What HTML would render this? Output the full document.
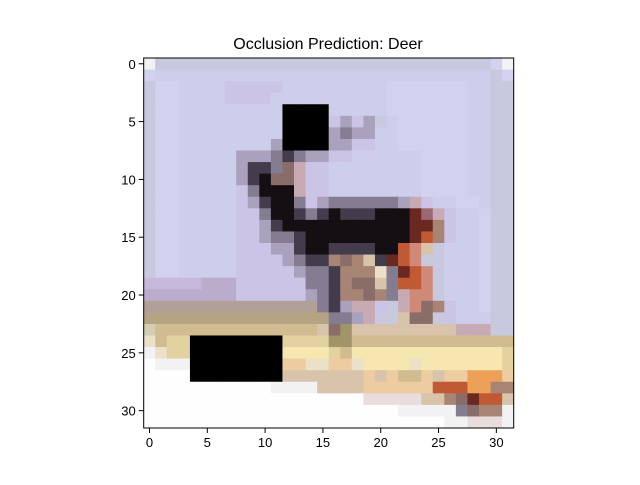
<!DOCTYPE html>
<html><head><meta charset="utf-8"><style>
body{margin:0;background:#fff;width:640px;height:480px;overflow:hidden}
svg{font-family:"Liberation Sans","DejaVu Sans",sans-serif}
</style></head><body>
<svg id="c" width="640" height="480">
<text x="328" y="49" text-anchor="middle" font-size="16">Occlusion Prediction: Deer</text>
<g id="cells"></g>
<g id="axes"></g>
</svg>
<script>
const rows = [
"wggggggggggggggggggggggggggggglw",
"lLLLLLLLLLLLLLLLLLLLLLLLLLLLLLgl",
"gllLLLLpppppLLLLLLLLLlllllllLLgg",
"gllLLLLppppLLLLLLLLLLlllllllLLgg",
"gllLLLLLLLLLKKKKLLLLLlllllllLLgg",
"gllLLLLLLLLLKKKKpspsgLllllllLLgg",
"gllLLLLLLLLLKKKKsmssLLllllllLLgg",
"gllLLLLLLLLsKKKKssppLLllllllLLgg",
"gllLLLLLsssmdmssppLLLLLLllllLLgg",
"gllLLLLLsddmMqppLLLLLLLLllllLLgg",
"gllLLLLLsdkMMqppLLLLLLLLllllLLgg",
"gllLLLLLpmkkkqppLLLLLLLLllllLLgg",
"gllLLLLLpsdkkmpsmmmmmmsqpLLllLgg",
"gllLLLLLppmkkdmdkdddkkkRxqpLLlgg",
"gllLLLLLppsdkkkkkkkkkkkRRbpLLlgg",
"gllLLLLLppsmmdkkkkkkkkkRrbpLLlgg",
"gllLLLLLpppssdkkddddkkrnegLLLlgg",
"gllLLLLLppppsmddbMbedRrnggLLLlgg",
"gllLLLLLpppppsmmdbbbcmRrngLLLlgg",
"PPPPPhhhppppppmmdbMMemrrngLLLlgg",
"hhhhhhhhppppppsmdbbMbmqnngLLLlgg",
"tttttttttttttttmdsqqpgqnMbpLLlgg",
"uuuuuuuuuuuuuuuummsqggeMMgpLLLgg",
"vyyyyyyyyyyyyyyeMzeeeeeeeeeqqqgg",
"cyaaKKKKKKKKaaaazzyyyyyyyyyyyyyy",
"wcaaKKKKKKKKYYYYayYYYYYYYYYYYYYa",
"WwwwKKKKKKKKffccffcYYYYcYYYYYYYa",
"WWWWKKKKKKKKeeeeeeefefyyfeffooof",
"WWWWWWWWWWWwwwweeeeffffffrrroob",
"WWWWWWWWWWWWWWWWWWWiiiiieebMRrre",
"WWWWWWWWWWWWWWWWWWWWWWwwwwwmMbbw",
"WWWWWWWWWWWWWWWWWWWWWWWWWWwwiiiw"
];
const palette = {W:"#fefefe",w:"#f2f2f4",g:"#c8c8de",l:"#d2d2f0",L:"#cdcdec",p:"#cbc4e6",P:"#c8b8dc",h:"#bcaccc",K:"#000000",k:"#150e12",d:"#433c4c",m:"#847c90",M:"#8a6c68",s:"#aaa2bc",q:"#c8aab4",x:"#9a6870",R:"#6a2820",r:"#c05a34",n:"#d08878",b:"#a88474",e:"#d8c4aa",c:"#ece0c8",t:"#b0a098",u:"#b4a484",v:"#d4ccb4",y:"#d0bc90",z:"#a09468",a:"#e2d2a0",Y:"#f6e6b0",f:"#eccca0",o:"#eca058",i:"#e8dcdc"};
const xTicks = [0,5,10,15,20,25,30];
const yTicks = [0,5,10,15,20,25,30];
const N = 32;
const L0=143.7, T0=58, S=370, cs=S/N;
const NS="http://www.w3.org/2000/svg";
const xs = v => L0 + (v+0.5)*cs;
const ys = v => T0 + (v+0.5)*cs;
const cells=document.getElementById('cells');
for(let r=0;r<N;r++){
  const row=(rows[r]+"".padEnd(N,rows[r].slice(-1))).slice(0,N);
  for(let c=0;c<N;c++){
    const el=document.createElementNS(NS,'rect');
    
    
    el.setAttribute('x',(xs(c)-cs/2).toFixed(2));
    el.setAttribute('y',(ys(r)-cs/2).toFixed(2));
    el.setAttribute('width',(cs+0.4).toFixed(2));
    el.setAttribute('height',(cs+0.4).toFixed(2));
    el.setAttribute('fill',palette[row[c]]||"#cdcdec");
    cells.appendChild(el);
  }
}
const ax=document.getElementById('axes');
function mk(tag,attrs,name,txt){
  const el=document.createElementNS(NS,tag);
  for(const k in attrs) el.setAttribute(k,attrs[k]);
  
  
  if(txt!==undefined) el.textContent=txt;
  ax.appendChild(el); return el;
}
mk('rect',{x:L0,y:T0,width:S,height:S,fill:'none',stroke:'#000','stroke-width':1},'axes-frame');
xTicks.forEach(v=>{
  const x=xs(v);
  mk('line',{x1:x,x2:x,y1:T0+S,y2:T0+S+5,stroke:'#000'},'x-tick');
  mk('text',{x:x,y:T0+S+19,'text-anchor':'middle','font-size':13},'x-tick-label',String(v));
});
yTicks.forEach(v=>{
  const y=ys(v);
  mk('line',{x1:L0-5,x2:L0,y1:y,y2:y,stroke:'#000'},'y-tick');
  mk('text',{x:L0-8,y:y+5,'text-anchor':'end','font-size':13},'y-tick-label',String(v));
});
</script>
</body></html>
